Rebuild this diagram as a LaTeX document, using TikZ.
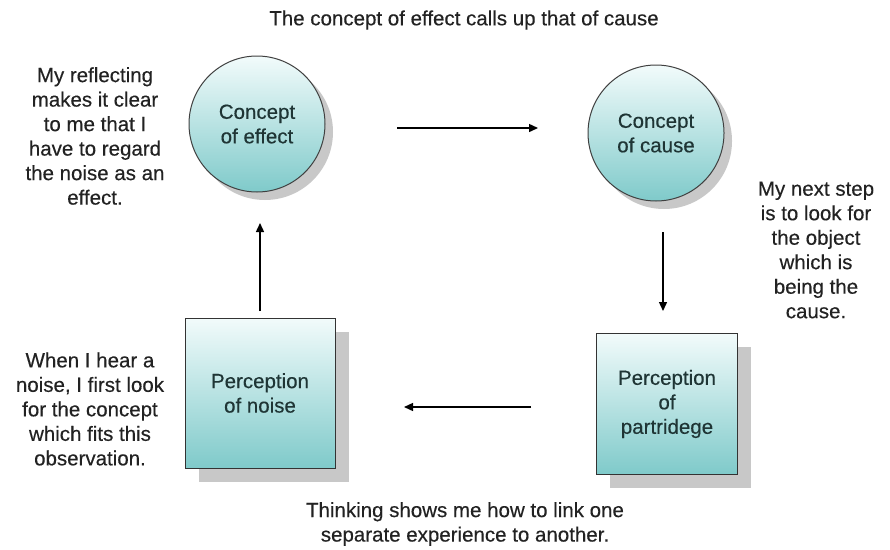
\documentclass[tikz,border=0pt]{standalone}
\usepackage{fontspec}
\setmainfont[FakeBold=0.3]{Liberation Sans}
\usetikzlibrary{arrows.meta}
\definecolor{tealfill}{HTML}{7FCACA}
\definecolor{tealtop}{HTML}{F2FBFB}
\definecolor{txt}{HTML}{1F3535}
\definecolor{notec}{HTML}{222222}
\definecolor{shadowc}{HTML}{C8C8C8}
\tikzset{
  every node/.style={font=\fontsize{20.5}{24.5}\selectfont, text=notec},
  conceptnode/.style={circle, draw=black!75, line width=1pt, top color=tealtop, bottom color=tealfill,
     minimum size=136pt, inner sep=0pt, align=center, text=txt},
  percnode/.style={rectangle, draw=black!80, line width=1pt, top color=tealtop, bottom color=tealfill,
     minimum width=146pt, minimum height=146pt, inner sep=0pt, align=center, text=txt},
  shadowcirc/.style={circle, fill=shadowc, minimum size=136pt, inner sep=0pt},
  shadowbox/.style={rectangle, fill=shadowc, minimum width=146pt, minimum height=146pt, inner sep=0pt},
  note/.style={align=center},
  flow/.style={line width=1.4pt, -{Triangle[length=9pt,width=8pt]}}
}
\begin{document}
\begin{tikzpicture}[x=1pt,y=-1pt]
\useasboundingbox[fill=white] (0,0) rectangle (890,549);
% shadows
\node[shadowcirc] at (265,132) {};
\node[shadowcirc] at (664,141) {};
\node[shadowbox, minimum width=150pt, minimum height=150pt] at (274,407) {};
\node[shadowbox, minimum width=141pt, minimum height=141pt] at (680,417) {};
% main nodes
\node[conceptnode] (effect) at (257,124) {Concept\\of effect};
\node[conceptnode] (cause) at (656,133) {Concept\\of cause};
\node[percnode, minimum width=150pt, minimum height=150pt] (noise) at (260,393) {Perception\\of noise};
\node[percnode, minimum width=141pt, minimum height=141pt] (partridge) at (667,404) {Perception\\of\\partridege};
% arrow endpoints
\coordinate (a1s) at (397,128); \coordinate (a1e) at (538,128);
\coordinate (a2s) at (663,232); \coordinate (a2e) at (663,311);
\coordinate (a3s) at (531,407); \coordinate (a3e) at (404,407);
\coordinate (a4s) at (260,311); \coordinate (a4e) at (260,223);
\draw[flow] (a1s) -- (a1e);
\draw[flow] (a2s) -- (a2e);
\draw[flow] (a3s) -- (a3e);
\draw[flow] (a4s) -- (a4e);
% texts
\node[note] (title) at (464,20) {The concept of effect calls up that of cause};
\node[note] (t1) at (95,136) {My reflecting\\makes it clear\\to me that I\\have to regard\\the noise as an\\effect.};
\node[note] (t2) at (816,250) {My next step\\is to look for\\the object\\which is\\being the\\cause.};
\node[note] (t3) at (90,409) {When I hear a\\noise, I first look\\for the concept\\which fits this\\observation.};
\node[note] (t4) at (465,524) {Thinking shows me how to link one\\separate experience to another.};
\end{tikzpicture}
\end{document}
